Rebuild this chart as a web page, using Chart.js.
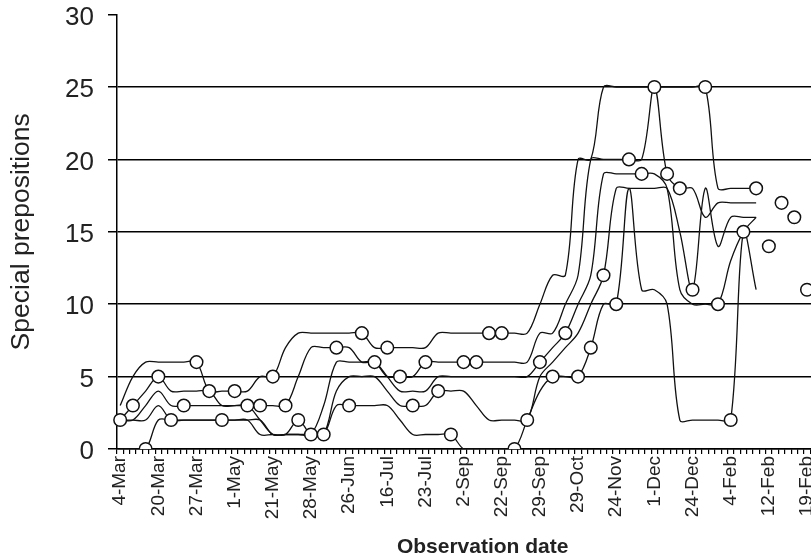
<!DOCTYPE html>
<html>
<head>
<meta charset="utf-8">
<script src="https://cdn.jsdelivr.net/npm/chart.js@4.4.1/dist/chart.umd.min.js"></script>
<style>
  html, body { margin: 0; padding: 0; background: #fff; overflow: hidden; }
  #wrap { width: 870px; height: 575px; margin-top: -15px; }
  canvas { display: block; }
</style>
</head>
<body>
<div id="wrap"><canvas id="myChart" width="870" height="575"></canvas></div>
<script>
// labels shown on the axis (one every 6 observations)
const tickLabels = ['4-Mar', '20-Mar', '27-Mar', '1-May', '21-May', '28-May', '26-Jun', '16-Jul', '23-Jul',
  '2-Sep', '22-Sep', '29-Sep', '29-Oct', '24-Nov', '1-Dec', '24-Dec', '4-Feb', '12-Feb', '19-Feb'];
const nCategories = 115;

// observations with circle markers (every 2nd category)
const circleValues = [2, 3, 0, 5, 2, 3, 6, 4, 2, 4, 3, 3, 5, 3, 2, 1, 1, 7, 3, 8,
  6, 7, 5, 3, 6, 4, 1, 6, 6, 8, 8, 0, 2, 6, 5, 8, 5, 7, 12, 10,
  20, 19, 25, 19, 18, 11, 25, 10, 2, 15, 18, 14, 17, 16, 11];

// smoothed lines (every 2nd category)
const lineA = [3, 5, 6, 6, 6, 6, 6, 4, 4, 4, 4, 5, 5, 7, 8, 8, 8, 8, 8, 8,
  7, 7, 7, 7, 7, 8, 8, 8, 8, 8, 8, 8, 8, 10, 12, 12, 20, 20, 25, 25,
  25, 25, 25, 25, 25, 25, 25, 18, 18, 18, 18];
const lineB = [2, 3, 4, 5, 4, 4, 4, 4, 3, 3, 3, 3, 3, 3, 5, 7, 7, 7, 7, 6,
  6, 5, 5, 5, 6, 6, 6, 6, 6, 6, 6, 6, 6, 8, 8, 10, 12, 20, 20, 20,
  20, 20, 25, 19, 18, 18, 16, 17, 17, 17, 17];
const lineC = [2, 2, 3, 4, 3, 3, 3, 3, 3, 3, 3, 2, 1, 1, 1, 1, 3, 6, 6, 6,
  6, 5, 4, 4, 4, 5, 5, 5, 5, 5, 5, 5, 5, 6, 7, 8, 10, 12, 19, 19,
  19, 19, 19, 18, 11, 10, 10, 10, 13, 15, 16];
const lineD = [2, 2, 2, 3, 2, 2, 2, 2, 2, 2, 2, 1, 1, 1, 2, 1, 1, 4, 5, 5,
  5, 4, 3, 3, 3, 4, 4, 4, 3, 2, 2, 2, 2, 5, 6, 7, 8, 10, 12, 18,
  18, 18, 18, 18, 15, 11, 18, 14, 16, 16, 16];
const lineE = [0, 0, 0, 2, 2, 2, 2, 2, 2, 2, 2, 2, 1, 1, 1, 1, 1, 3, 3, 3,
  3, 3, 2, 1, 1, 1, 1, 0, 0, 0, 0, 0, 2, 4, 5, 5, 5, 7, 10, 10,
  18, 11, 11, 10, 2, 2, 2, 2, 2, 15, 11];

const categories = Array.from({ length: nCategories }, (_, i) =>
  (i % 6 === 0 && tickLabels[i / 6]) ? tickLabels[i / 6] : '');

// put values on every 2nd category
function spread(vals) {
  const out = new Array(nCategories).fill(null);
  vals.forEach((v, k) => { out[k * 2] = v; });
  return out;
}

const fontFam = '"Liberation Sans", Arial, sans-serif';

function lineSet(vals) {
  return {
    data: spread(vals),
    borderColor: '#111',
    borderWidth: 1.3,
    pointRadius: 0,
    tension: 0.35,
    spanGaps: true,
    fill: false,
    order: 1
  };
}

const chartData = {
  labels: categories,
  datasets: [
    {
      data: spread(circleValues),
      showLine: false,
      pointRadius: 6.3,
      pointBorderWidth: 1.5,
      pointBackgroundColor: '#fff',
      pointBorderColor: '#111',
      order: 0
    },
    lineSet(lineA), lineSet(lineB), lineSet(lineC), lineSet(lineD), lineSet(lineE)
  ]
};

const config = {
  type: 'line',
  data: chartData,
  options: {
    responsive: false,
    animation: false,
    layout: { padding: 0 },
    plugins: { legend: { display: false }, tooltip: { enabled: false } },
    scales: {
      x: {
        type: 'category',
        offset: true,
        grid: { offset: true, drawOnChartArea: false, drawTicks: true, tickLength: 5, color: '#000', lineWidth: 1.2 },
        border: { color: '#000', width: 1.5 },
        ticks: { autoSkip: false, maxRotation: 90, minRotation: 90, padding: 2,
          font: { family: fontFam, size: 19 }, color: '#222' },
        title: { display: true, text: 'Observation date', color: '#222',
          font: { family: fontFam, size: 21, weight: 'bold' }, padding: { top: 0, bottom: 0 } },
        afterFit: s => { s.height = 111; }
      },
      y: {
        min: 0,
        max: 30,
        ticks: { stepSize: 5, padding: 14, labelOffset: 3, font: { family: fontFam, size: 26 }, color: '#222' },
        grid: {
          color: ctx => (ctx.tick && ctx.tick.value === 30) ? 'rgba(0,0,0,0)' : '#000',
          tickColor: '#000', lineWidth: 1.5, tickLength: 9
        },
        border: { color: '#000', width: 1.5 },
        title: { display: true, text: 'Special prepositions', color: '#222',
          font: { family: fontFam, size: 26.5 }, padding: { top: 6, bottom: 0 } },
        afterFit: s => { s.width = 117; }
      }
    }
  }
};

const ctx = document.getElementById('myChart').getContext('2d');
const myChart = new Chart(ctx, config);
</script>
</body>
</html>
